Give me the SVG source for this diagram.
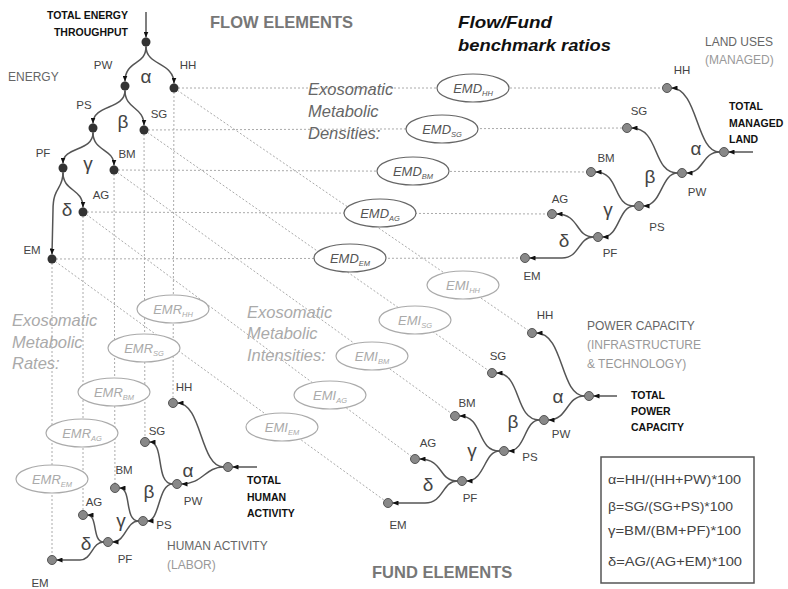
<svg xmlns="http://www.w3.org/2000/svg" width="788" height="589" viewBox="0 0 788 589">
  <style>
    text { font-family: "Liberation Sans", Arial, sans-serif; }
    .guide { fill: none; stroke: #aaa; stroke-width: 1; stroke-dasharray: 2 2; }
    .conn { fill: none; stroke: #555; stroke-width: 1.5; }
    .flow { fill: #333; }
    .fund { fill: #888; stroke: #555; stroke-width: 1; }
    .lbl { font-size: 11.5px; fill: #444; text-anchor: middle; }
    .greek { font-family: "Liberation Sans", "DejaVu Sans", sans-serif; font-size: 19px; fill: #444; text-anchor: middle; }
    .total { font-size: 10.5px; font-weight: bold; fill: #111; }
    .head { font-size: 16.5px; font-weight: bold; fill: #777; }
    .cat { font-size: 12px; fill: #666; }
    .catsub { font-size: 12px; fill: #999; }
    .dens { font-size: 16.5px; font-style: italic; fill: #666; }
    .light { font-size: 16.5px; font-style: italic; fill: #aaa; }
    .ratio-d { fill: #fff; stroke: #666; stroke-width: 1.2; }
    .ratio-l { fill: #fff; stroke: #aaa; stroke-width: 1.2; }
    .rt-d { font-size: 13px; font-style: italic; fill: #555; text-anchor: middle; }
    .rt-l { font-size: 13px; font-style: italic; fill: #aaa; text-anchor: middle; }
    .sub { font-size: 7.5px; }
    .formula { font-size: 13.5px; fill: #444; }
  </style>
  <defs>
    <marker id="arrow" markerUnits="userSpaceOnUse" viewBox="0 0 6 5" refX="6" refY="2.5" markerWidth="6" markerHeight="5" orient="auto">
      <path d="M0,0 L6,2.5 L0,5 z" fill="#111"/>
    </marker>
  </defs>

  <!-- dotted guides: flow elements to land, human activity and power capacity -->
  <g id="guides">
    <path class="guide" d="M174,88 L667,88 M144,130 L627,128 M114,170 L591,172 M83,212 L552,214 M52,259 L525,258"/>
    <path class="guide" d="M174,88 L173,403 M144,130 L145,442 M114,170 L115,488 M83,212 L83,515 M52,259 L52,560"/>
    <path class="guide" d="M174,88 L532,333 M144,130 L492,373 M114,170 L455,416 M83,212 L415,459 M52,259 L388,503"/>
  </g>

  <!-- headings -->
  <g id="headings">
    <text class="total" x="128" y="19" text-anchor="end">TOTAL ENERGY</text>
    <text class="total" x="128" y="36" text-anchor="end">THROUGHPUT</text>
    <text class="head" x="210" y="28">FLOW ELEMENTS</text>
    <text class="head" x="372" y="578">FUND ELEMENTS</text>
    <text x="458" y="28" font-size="17" font-weight="bold" font-style="italic" fill="#111" textLength="94" lengthAdjust="spacingAndGlyphs">Flow/Fund</text>
    <text x="458" y="51" font-size="17" font-weight="bold" font-style="italic" fill="#111" textLength="153" lengthAdjust="spacingAndGlyphs">benchmark ratios</text>
    <text class="cat" x="8" y="81">ENERGY</text>
    <text class="cat" x="705" y="46">LAND USES</text>
    <text class="catsub" x="705" y="64">(MANAGED)</text>
    <text class="cat" x="587" y="330">POWER CAPACITY</text>
    <text class="catsub" x="587" y="349">(INFRASTRUCTURE</text>
    <text class="catsub" x="587" y="368">&amp; TECHNOLOGY)</text>
    <text class="cat" x="167" y="550">HUMAN ACTIVITY</text>
    <text class="catsub" x="167" y="569">(LABOR)</text>
    <text class="total" x="729" y="110">TOTAL</text>
    <text class="total" x="729" y="127">MANAGED</text>
    <text class="total" x="729" y="143">LAND</text>
    <text class="total" x="631" y="399">TOTAL</text>
    <text class="total" x="631" y="415">POWER</text>
    <text class="total" x="631" y="431">CAPACITY</text>
    <text class="total" x="247" y="484">TOTAL</text>
    <text class="total" x="247" y="501">HUMAN</text>
    <text class="total" x="247" y="517">ACTIVITY</text>
    <text class="dens" x="308" y="95">Exosomatic</text>
    <text class="dens" x="308" y="117">Metabolic</text>
    <text class="dens" x="308" y="139">Densities:</text>
    <text class="light" x="12" y="326">Exosomatic</text>
    <text class="light" x="12" y="348">Metabolic</text>
    <text class="light" x="12" y="369">Rates:</text>
    <text class="light" x="247" y="318">Exosomatic</text>
    <text class="light" x="247" y="339">Metabolic</text>
    <text class="light" x="247" y="361">Intensities:</text>
  </g>

  <!-- benchmark ratios -->
  <g id="emd">
    <g id="emd-hh"><ellipse class="ratio-d" cx="473" cy="88" rx="36" ry="14"/><text class="rt-d" x="473" y="93">EMD<tspan class="sub" dy="3">HH</tspan></text></g>
    <g id="emd-sg"><ellipse class="ratio-d" cx="442" cy="129" rx="36" ry="14"/><text class="rt-d" x="442" y="134">EMD<tspan class="sub" dy="3">SG</tspan></text></g>
    <g id="emd-bm"><ellipse class="ratio-d" cx="413" cy="171" rx="36" ry="14"/><text class="rt-d" x="413" y="176">EMD<tspan class="sub" dy="3">BM</tspan></text></g>
    <g id="emd-ag"><ellipse class="ratio-d" cx="380" cy="213" rx="36" ry="14"/><text class="rt-d" x="380" y="218">EMD<tspan class="sub" dy="3">AG</tspan></text></g>
    <g id="emd-em"><ellipse class="ratio-d" cx="350" cy="258" rx="36" ry="14"/><text class="rt-d" x="350" y="263">EMD<tspan class="sub" dy="3">EM</tspan></text></g>
  </g>
  <g id="emi">
    <g id="emi-hh"><ellipse class="ratio-l" cx="463" cy="285" rx="36" ry="14"/><text class="rt-l" x="463" y="290">EMI<tspan class="sub" dy="3">HH</tspan></text></g>
    <g id="emi-sg"><ellipse class="ratio-l" cx="415" cy="320" rx="36" ry="14"/><text class="rt-l" x="415" y="325">EMI<tspan class="sub" dy="3">SG</tspan></text></g>
    <g id="emi-bm"><ellipse class="ratio-l" cx="372" cy="356" rx="36" ry="14"/><text class="rt-l" x="372" y="361">EMI<tspan class="sub" dy="3">BM</tspan></text></g>
    <g id="emi-ag"><ellipse class="ratio-l" cx="330" cy="395" rx="36" ry="14"/><text class="rt-l" x="330" y="400">EMI<tspan class="sub" dy="3">AG</tspan></text></g>
    <g id="emi-em"><ellipse class="ratio-l" cx="282" cy="427" rx="36" ry="14"/><text class="rt-l" x="282" y="432">EMI<tspan class="sub" dy="3">EM</tspan></text></g>
  </g>
  <g id="emr">
    <g id="emr-hh"><ellipse class="ratio-l" cx="173" cy="309" rx="36" ry="14"/><text class="rt-l" x="173" y="314">EMR<tspan class="sub" dy="3">HH</tspan></text></g>
    <g id="emr-sg"><ellipse class="ratio-l" cx="144" cy="348" rx="36" ry="14"/><text class="rt-l" x="144" y="353">EMR<tspan class="sub" dy="3">SG</tspan></text></g>
    <g id="emr-bm"><ellipse class="ratio-l" cx="114" cy="392" rx="36" ry="14"/><text class="rt-l" x="114" y="397">EMR<tspan class="sub" dy="3">BM</tspan></text></g>
    <g id="emr-ag"><ellipse class="ratio-l" cx="82" cy="433" rx="36" ry="14"/><text class="rt-l" x="82" y="438">EMR<tspan class="sub" dy="3">AG</tspan></text></g>
    <g id="emr-em"><ellipse class="ratio-l" cx="52" cy="479" rx="36" ry="14"/><text class="rt-l" x="52" y="484">EMR<tspan class="sub" dy="3">EM</tspan></text></g>
  </g>

  <!-- tree connectors -->
  <g id="connectors" marker-end="url(#arrow)">
    <!-- energy flow tree -->
    <path class="conn" d="M146,12 L146,37.5"/>
    <path class="conn" d="M146,46.5 C146,66 125,60 125,81.5"/>
    <path class="conn" d="M146,46.5 C146,66 174,62 174,83.5"/>
    <path class="conn" d="M125,90.5 C125,110 93,104 93,123.5"/>
    <path class="conn" d="M125,90.5 C125,110 144,106 144,125.5"/>
    <path class="conn" d="M93,132.5 C93,152 63,146 63,163.5"/>
    <path class="conn" d="M93,132.5 C93,152 114,148 114,165.5"/>
    <path class="conn" d="M63,172.5 C63,192 83,188 83,207.5"/>
    <path class="conn" d="M63,172.5 C63,190 53,186 53,210 L52,254.5"/>
    <!-- land use tree -->
    <path class="conn" d="M753,152 L728.5,152"/>
    <path class="conn" d="M719.5,152 C696,152 698,88 671.5,88"/>
    <path class="conn" d="M719.5,152 C702,152 704,173 686.5,173"/>
    <path class="conn" d="M677.5,173 C652,173 660,128 631.5,128"/>
    <path class="conn" d="M677.5,173 C661,173 662,206 643.5,206"/>
    <path class="conn" d="M634.5,206 C612,206 620,172 595.5,172"/>
    <path class="conn" d="M634.5,206 C618,206 620,237 602.5,237"/>
    <path class="conn" d="M593.5,237 C575,237 580,214 556.5,214"/>
    <path class="conn" d="M593.5,237 C578,237 580,258 562,258 L529.5,258"/>
    <!-- power capacity tree -->
    <path class="conn" d="M617,396 L593.5,396"/>
    <path class="conn" d="M584.5,396 C560,396 564,333 536.5,333"/>
    <path class="conn" d="M584.5,396 C566,396 568,420 548.5,420"/>
    <path class="conn" d="M539.5,420 C514,420 522,373 496.5,373"/>
    <path class="conn" d="M539.5,420 C524,420 526,451 508.5,451"/>
    <path class="conn" d="M499.5,451 C476,451 484,416 459.5,416"/>
    <path class="conn" d="M499.5,451 C484,451 485,481 466.5,481"/>
    <path class="conn" d="M457.5,481 C438,481 444,459 419.5,459"/>
    <path class="conn" d="M457.5,481 C442,481 444,503 425,503 L392.5,503"/>
    <!-- human activity tree -->
    <path class="conn" d="M257,467 L232.5,467"/>
    <path class="conn" d="M223.5,467 C200,467 202,403 177.5,403"/>
    <path class="conn" d="M223.5,467 C205,467 203,484 181.5,484"/>
    <path class="conn" d="M172.5,484 C155,484 165,442 149.5,442"/>
    <path class="conn" d="M172.5,484 C158,484 160,521 147.5,521"/>
    <path class="conn" d="M138.5,521 C124,521 132,488 119.5,488"/>
    <path class="conn" d="M138.5,521 C126,521 126,542 112.5,542"/>
    <path class="conn" d="M103.5,542 C92,542 98,515 87.5,515"/>
    <path class="conn" d="M103.5,542 C92,542 92,560 80,560 L56.5,560"/>
  </g>

  <!-- energy flow nodes -->
  <g id="flow-total"><circle class="flow" cx="146" cy="42" r="4.5"/></g>
  <g id="flow-pw"><circle class="flow" cx="125" cy="86" r="4.5"/><text class="lbl" x="103" y="69">PW</text></g>
  <g id="flow-hh"><circle class="flow" cx="174" cy="88" r="4.5"/><text class="lbl" x="188" y="69">HH</text></g>
  <g id="flow-ps"><circle class="flow" cx="93" cy="128" r="4.5"/><text class="lbl" x="84" y="109">PS</text></g>
  <g id="flow-sg"><circle class="flow" cx="144" cy="130" r="4.5"/><text class="lbl" x="159" y="118">SG</text></g>
  <g id="flow-pf"><circle class="flow" cx="63" cy="168" r="4.5"/><text class="lbl" x="43" y="157">PF</text></g>
  <g id="flow-bm"><circle class="flow" cx="114" cy="170" r="4.5"/><text class="lbl" x="127" y="158">BM</text></g>
  <g id="flow-ag"><circle class="flow" cx="83" cy="212" r="4.5"/><text class="lbl" x="101" y="199">AG</text></g>
  <g id="flow-em"><circle class="flow" cx="52" cy="259" r="4.5"/><text class="lbl" x="32" y="254">EM</text></g>
  <g id="flow-greek">
    <text class="greek" x="146" y="83">α</text>
    <text class="greek" x="123" y="128">β</text>
    <text class="greek" x="88" y="170">γ</text>
    <text class="greek" x="67" y="216">δ</text>
  </g>

  <!-- land use nodes -->
  <g id="land-total"><circle class="fund" cx="724" cy="152" r="4.5"/></g>
  <g id="land-hh"><circle class="fund" cx="667" cy="88" r="4.5"/><text class="lbl" x="682" y="74">HH</text></g>
  <g id="land-pw"><circle class="fund" cx="682" cy="173" r="4.5"/><text class="lbl" x="697" y="196">PW</text></g>
  <g id="land-sg"><circle class="fund" cx="627" cy="128" r="4.5"/><text class="lbl" x="639" y="115">SG</text></g>
  <g id="land-ps"><circle class="fund" cx="639" cy="206" r="4.5"/><text class="lbl" x="657" y="231">PS</text></g>
  <g id="land-bm"><circle class="fund" cx="591" cy="172" r="4.5"/><text class="lbl" x="606" y="162">BM</text></g>
  <g id="land-pf"><circle class="fund" cx="598" cy="237" r="4.5"/><text class="lbl" x="610" y="257">PF</text></g>
  <g id="land-ag"><circle class="fund" cx="552" cy="214" r="4.5"/><text class="lbl" x="560" y="203">AG</text></g>
  <g id="land-em"><circle class="fund" cx="525" cy="258" r="4.5"/><text class="lbl" x="532" y="280">EM</text></g>
  <g id="land-greek">
    <text class="greek" x="696" y="155">α</text>
    <text class="greek" x="650" y="183">β</text>
    <text class="greek" x="608" y="216">γ</text>
    <text class="greek" x="564" y="247">δ</text>
  </g>

  <!-- power capacity nodes -->
  <g id="power-total"><circle class="fund" cx="589" cy="396" r="4.5"/></g>
  <g id="power-hh"><circle class="fund" cx="532" cy="333" r="4.5"/><text class="lbl" x="545" y="319">HH</text></g>
  <g id="power-pw"><circle class="fund" cx="544" cy="420" r="4.5"/><text class="lbl" x="561" y="438">PW</text></g>
  <g id="power-sg"><circle class="fund" cx="492" cy="373" r="4.5"/><text class="lbl" x="498" y="360">SG</text></g>
  <g id="power-ps"><circle class="fund" cx="504" cy="451" r="4.5"/><text class="lbl" x="530" y="461">PS</text></g>
  <g id="power-bm"><circle class="fund" cx="455" cy="416" r="4.5"/><text class="lbl" x="467" y="407">BM</text></g>
  <g id="power-pf"><circle class="fund" cx="462" cy="481" r="4.5"/><text class="lbl" x="470" y="502">PF</text></g>
  <g id="power-ag"><circle class="fund" cx="415" cy="459" r="4.5"/><text class="lbl" x="428" y="447">AG</text></g>
  <g id="power-em"><circle class="fund" cx="388" cy="503" r="4.5"/><text class="lbl" x="398" y="529">EM</text></g>
  <g id="power-greek">
    <text class="greek" x="558" y="403">α</text>
    <text class="greek" x="513" y="428">β</text>
    <text class="greek" x="472" y="457">γ</text>
    <text class="greek" x="428" y="491">δ</text>
  </g>

  <!-- human activity nodes -->
  <g id="human-total"><circle class="fund" cx="228" cy="467" r="4.5"/></g>
  <g id="human-hh"><circle class="fund" cx="173" cy="403" r="4.5"/><text class="lbl" x="184" y="391">HH</text></g>
  <g id="human-pw"><circle class="fund" cx="177" cy="484" r="4.5"/><text class="lbl" x="193" y="505">PW</text></g>
  <g id="human-sg"><circle class="fund" cx="145" cy="442" r="4.5"/><text class="lbl" x="157" y="435">SG</text></g>
  <g id="human-ps"><circle class="fund" cx="143" cy="521" r="4.5"/><text class="lbl" x="164" y="529">PS</text></g>
  <g id="human-bm"><circle class="fund" cx="115" cy="488" r="4.5"/><text class="lbl" x="124" y="474">BM</text></g>
  <g id="human-pf"><circle class="fund" cx="108" cy="542" r="4.5"/><text class="lbl" x="125" y="563">PF</text></g>
  <g id="human-ag"><circle class="fund" cx="83" cy="515" r="4.5"/><text class="lbl" x="94" y="506">AG</text></g>
  <g id="human-em"><circle class="fund" cx="52" cy="560" r="4.5"/><text class="lbl" x="40" y="587">EM</text></g>
  <g id="human-greek">
    <text class="greek" x="188" y="477">α</text>
    <text class="greek" x="149" y="498">β</text>
    <text class="greek" x="121" y="527">γ</text>
    <text class="greek" x="86" y="550">δ</text>
  </g>

  <!-- ratio definitions -->
  <g id="legend">
    <rect x="601" y="457" width="153" height="126" fill="#fff" stroke="#555" stroke-width="1.5"/>
    <text class="formula" x="608" y="484" textLength="133" lengthAdjust="spacingAndGlyphs">α=HH/(HH+PW)*100</text>
    <text class="formula" x="608" y="511" textLength="125" lengthAdjust="spacingAndGlyphs">β=SG/(SG+PS)*100</text>
    <text class="formula" x="608" y="535" textLength="133" lengthAdjust="spacingAndGlyphs">γ=BM/(BM+PF)*100</text>
    <text class="formula" x="608" y="566" textLength="134" lengthAdjust="spacingAndGlyphs">δ=AG/(AG+EM)*100</text>
  </g>
</svg>
